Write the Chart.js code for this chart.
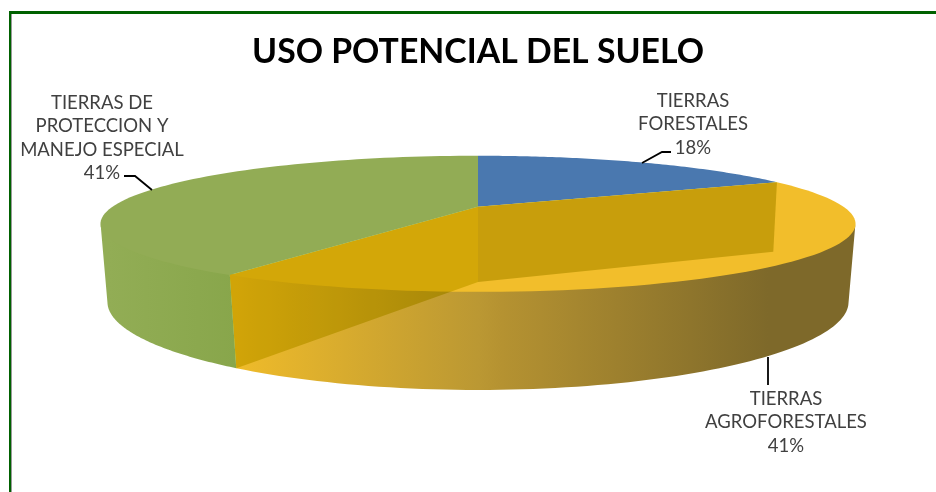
<!DOCTYPE html>
<html>
<head>
<meta charset="utf-8">
<script src="https://cdn.jsdelivr.net/npm/chart.js@4"></script>
<style>
  body { margin: 0; background: #fff; }
  #wrap { position: relative; width: 936px; height: 492px; overflow: hidden; }
  #frame { position: absolute; left: 9px; top: 11px; right: 0; bottom: -5px;
           border-top: 3px solid #006100; border-left: 2px solid #006100;
           box-shadow: inset 1px 0 0 #9a9a9a; }
  canvas { position: absolute; left: 0; top: 0; }
</style>
</head>
<body>
<div id="wrap">
  <div id="frame"></div>
  <canvas id="chart" width="936" height="492"></canvas>
</div>
<script>
// data
const categories = ['TIERRAS FORESTALES', 'TIERRAS AGROFORESTALES', 'TIERRAS DE PROTECCION Y MANEJO ESPECIAL'];
const categoryLines = [['TIERRAS', 'FORESTALES'], ['TIERRAS', 'AGROFORESTALES'], ['TIERRAS DE', 'PROTECCION Y', 'MANEJO ESPECIAL']];
const values = [18, 41, 41];
const sliceColors = ['#4a78af', '#f2be2b', '#92ac55'];

// styles / layout for the 3d look
const titleText = 'USO POTENCIAL DEL SUELO';
const labelAnchors = [{x: 693, y: 101}, {x: 786, y: 399}, {x: 102, y: 103}];
const leaderLines = [
    [[642, 163], [662, 152], [671, 152]],
    [[768, 357], [768, 385]],
    [[152, 190], [135, 176], [124, 176]]
];
const wallStops = [
    [[0, '#4a78af'], [1, '#3a6190']],
    [[0, '#efbb2a'], [0.455, '#bb9833'], [0.5, '#b59231'], [1, '#7e692a']],
    [[0, '#92ad55'], [1, '#88a64b']]
];
const wallSpan = [[108, 768], [236, 768], [108, 236]];

// planes of the cylinder, in units of the pie radius
const topPlane = {dy: 0, ax: 2.744, by: 0.479, kx: 0.25, ky: 0.25};
const bottomPlane = {dy: 0.564, ax: 2.70, by: 0.592, kx: 0.24, ky: 0.27};
// walls start a touch above the rim so no white seam shows under the top
const wallPlane = {dy: -0.01, ax: 2.744, by: 0.479, kx: 0.25, ky: 0.25};

function project(el, plane, angle) {
    const r = el.outerRadius;
    const c = Math.cos(angle), s = Math.sin(angle);
    return {
        x: el.x + r * plane.ax * c / (1 - plane.kx * s),
        y: el.y + r * plane.dy + r * plane.by * s / (1 - plane.ky * s)
    };
}

function rimPath(ctx, el, plane, from, to, first) {
    const steps = 80;
    for (let i = 0; i <= steps; i++) {
        const p = project(el, plane, from + (to - from) * i / steps);
        if (i === 0 && first) ctx.moveTo(p.x, p.y);
        else ctx.lineTo(p.x, p.y);
    }
}

function drawWall(ctx, el, i) {
    // only the part of the rim that faces the viewer
    const edge = Math.asin(topPlane.ky);
    const from = Math.max(el.startAngle, edge);
    const to = Math.min(el.endAngle, Math.PI - edge);
    if (to <= from) return;
    const span = wallSpan[i];
    // the orange wall keeps its dark shade up to the right edge of the pie
    const grad = ctx.createLinearGradient(span[0], 0, span[1], 0);
    wallStops[i].forEach(s => grad.addColorStop(s[0], s[1]));
    ctx.beginPath();
    rimPath(ctx, el, wallPlane, from, to, true);
    rimPath(ctx, el, bottomPlane, to, from, false);
    ctx.closePath();
    ctx.fillStyle = grad;
    ctx.fill();
}

function drawTop(ctx, el, color) {
    ctx.beginPath();
    ctx.moveTo(el.x, el.y);
    rimPath(ctx, el, topPlane, el.startAngle, el.endAngle, false);
    ctx.closePath();
    ctx.fillStyle = color;
    ctx.fill();
}

function drawCut(ctx, el, angle, tint) {
    const a = project(el, topPlane, angle);
    const b = project(el, bottomPlane, angle);
    ctx.beginPath();
    ctx.moveTo(el.x, el.y);
    ctx.lineTo(a.x, a.y);
    ctx.lineTo(b.x, b.y);
    ctx.lineTo(el.x, el.y + el.outerRadius * bottomPlane.dy);
    ctx.closePath();
    ctx.fillStyle = tint;
    ctx.fill();
}

const pie3d = {
    id: 'pie3d',
    beforeDatasetsDraw(chart) {
        const ctx = chart.ctx;
        const arcs = chart.getDatasetMeta(0).data;
        ctx.save();
        arcs.forEach((el, i) => drawWall(ctx, el, i));
        arcs.forEach((el, i) => drawTop(ctx, el, sliceColors[i]));
        // the orange slice shows its two cut faces through the top
        ctx.globalCompositeOperation = 'multiply';
        drawCut(ctx, arcs[1], arcs[1].startAngle, 'rgb(211,212,71)');
        drawCut(ctx, arcs[1], arcs[1].endAngle, 'rgb(223,224,46)');
        ctx.restore();
        return false;
    },
    afterDraw(chart) {
        const ctx = chart.ctx;
        const total = values.reduce((a, b) => a + b, 0);
        ctx.save();
        ctx.strokeStyle = '#000';
        ctx.lineWidth = 1.8;
        leaderLines.forEach(line => {
            ctx.beginPath();
            line.forEach((p, i) => i ? ctx.lineTo(p[0], p[1]) : ctx.moveTo(p[0], p[1]));
            ctx.stroke();
        });
        ctx.font = '18.5px Lato';
        ctx.fillStyle = '#404040';
        ctx.textAlign = 'center';
        ctx.textBaseline = 'middle';
        categoryLines.forEach((lines, i) => {
            const pct = Math.round(values[i] / total * 100) + '%';
            lines.concat(pct).forEach((t, j) => {
                ctx.fillText(t, labelAnchors[i].x, labelAnchors[i].y + j * 23.4);
            });
        });
        ctx.restore();
    }
};

const myChart = new Chart(document.getElementById('chart'), {
    type: 'pie',
    data: {
        labels: categories,
        datasets: [{data: values, backgroundColor: sliceColors, borderWidth: 0}]
    },
    options: {
        responsive: false,
        animation: false,
        layout: {padding: {left: 20, right: 0, top: 0, bottom: 152}},
        plugins: {
            legend: {display: false},
            tooltip: {enabled: false},
            title: {
                display: true,
                text: titleText,
                color: '#000',
                font: {family: 'Lato', size: 33.8, weight: 'bold'},
                padding: {top: 32, bottom: 1}
            }
        }
    },
    plugins: [pie3d]
});
</script>
</body>
</html>
